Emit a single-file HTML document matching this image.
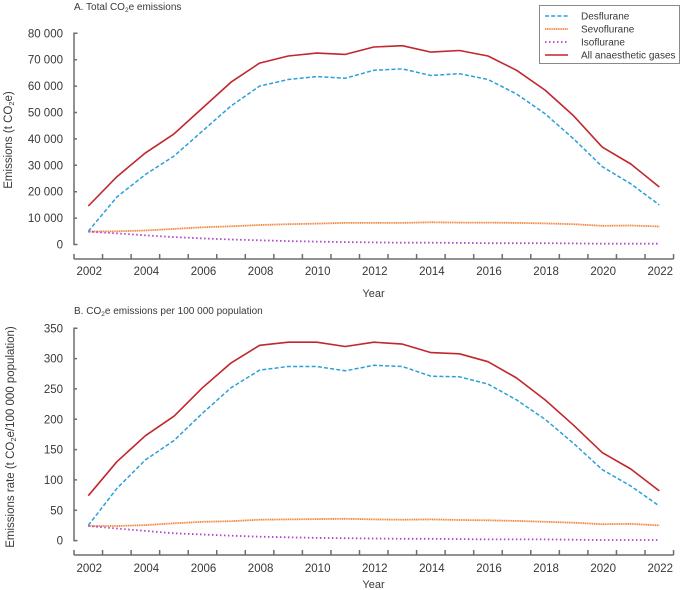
<!DOCTYPE html>
<html><head><meta charset="utf-8"><style>
html,body{margin:0;padding:0;background:#fff;}
svg{display:block;font-family:"Liberation Sans",Arial,sans-serif;fill:#383838;}
</style></head><body>
<svg width="686" height="590" viewBox="0 0 686 590" xmlns="http://www.w3.org/2000/svg">
<!-- Titles -->
<text x="74" y="10" font-size="10">A. Total CO<tspan font-size="6.5" dy="2">2</tspan><tspan dy="-2">e emissions</tspan></text>
<text x="74" y="314" font-size="10">B. CO<tspan font-size="6.5" dy="2">2</tspan><tspan dy="-2">e emissions per 100 000 population</tspan></text>

<!-- Legend -->
<rect x="539.5" y="5.5" width="140" height="58" fill="#fff" stroke="#8a8a8a" stroke-width="1"/>
<line x1="545" y1="16" x2="568" y2="16" stroke="#2a9fd8" stroke-width="1.5" stroke-dasharray="4 2.2"/>
<line x1="545" y1="29" x2="568" y2="29" stroke="#f0843c" stroke-width="1.8" stroke-dasharray="1.2 0.6"/>
<line x1="545" y1="42" x2="568" y2="42" stroke="#b43fd0" stroke-width="1.8" stroke-dasharray="1.5 2.5"/>
<line x1="545" y1="55" x2="568" y2="55" stroke="#c1272d" stroke-width="1.6"/>
<g font-size="10">
<text x="581" y="19.5">Desflurane</text>
<text x="581" y="32.5">Sevoflurane</text>
<text x="581" y="45.5">Isoflurane</text>
<text x="581" y="58.5">All anaesthetic gases</text>
</g>

<!-- Panel A axes -->
<g stroke="#6d6d6d" stroke-width="1.5" fill="none">
<path d="M77.5,33.3 H74 V244.5 H77.5"/>
<path d="M74,218.1h3 M74,191.7h3 M74,165.3h3 M74,138.9h3 M74,112.5h3 M74,86.1h3 M74,59.7h3"/>
<path d="M74,259 H673.6"/>
<path d="M74,254V259 M102.55,254V259 M131.1,254V259 M159.65,254V259 M188.2,254V259 M216.75,254V259 M245.3,254V259 M273.85,254V259 M302.4,254V259 M330.95,254V259 M359.5,254V259 M388.05,254V259 M416.6,254V259 M445.15,254V259 M473.7,254V259 M502.25,254V259 M530.8,254V259 M559.35,254V259 M587.9,254V259 M616.45,254V259 M645,254V259 M673.55,254V259"/>
</g>
<g font-size="11.5" text-anchor="end">
<text x="63" y="248.5">0</text>
<text x="63" y="222.1">10 000</text>
<text x="63" y="195.7">20 000</text>
<text x="63" y="169.3">30 000</text>
<text x="63" y="142.9">40 000</text>
<text x="63" y="116.5">50 000</text>
<text x="63" y="90.1">60 000</text>
<text x="63" y="63.7">70 000</text>
<text x="63" y="37.3">80 000</text>
</g>
<g font-size="11.5" text-anchor="middle">
<text x="89.3" y="275">2002</text>
<text x="146.4" y="275">2004</text>
<text x="203.5" y="275">2006</text>
<text x="260.6" y="275">2008</text>
<text x="317.7" y="275">2010</text>
<text x="374.8" y="275">2012</text>
<text x="431.9" y="275">2014</text>
<text x="489" y="275">2016</text>
<text x="546.1" y="275">2018</text>
<text x="603.2" y="275">2020</text>
<text x="660.3" y="275">2022</text>
<text x="373.5" y="297" font-size="11">Year</text>
</g>
<text transform="translate(12,140) rotate(-90)" font-size="11.5" text-anchor="middle">Emissions (t CO<tspan font-size="7.5" dy="2">2</tspan><tspan dy="-2">e)</tspan></text>

<!-- Panel A series -->
<g fill="none" stroke-linejoin="round">
<polyline stroke="#f0843c" stroke-width="1.8" stroke-dasharray="1.2 0.6" points="88.3,231.6 116.9,231.3 145.4,230.5 174,228.9 202.5,227.3 231.1,226.3 259.6,225 288.2,224.2 316.7,223.6 345.3,222.9 373.8,222.9 402.4,222.9 430.9,222.3 459.5,222.6 488,222.6 516.6,222.9 545.1,223.4 573.7,224.2 602.2,225.8 630.8,225.5 659.3,226.5"/>
<polyline stroke="#b43fd0" stroke-width="1.8" stroke-dasharray="1.5 2.5" points="88.3,231.6 116.9,233.4 145.4,235.3 174,237.1 202.5,238.4 231.1,239.5 259.6,240.3 288.2,241.1 316.7,241.6 345.3,242.1 373.8,242.4 402.4,242.7 430.9,242.7 459.5,242.9 488,243.2 516.6,243.2 545.1,243.2 573.7,243.4 602.2,243.7 630.8,243.7 659.3,243.7"/>
<polyline stroke="#2a9fd8" stroke-width="1.5" stroke-dasharray="4 2.2" points="88.3,231.3 116.9,197 145.4,174.5 174,156.1 202.5,131 231.1,105.9 259.6,86.1 288.2,79.5 316.7,76.6 345.3,78.2 373.8,70.3 402.4,68.9 430.9,75.5 459.5,73.7 488,79.5 516.6,94 545.1,113.8 573.7,138.9 602.2,166.6 630.8,183.8 659.3,204.9"/>
<polyline stroke="#c1272d" stroke-width="1.6" points="88.3,206 116.9,176.7 145.4,152.9 174,133.9 202.5,108 231.1,82.1 259.6,63.1 288.2,56 316.7,53.1 345.3,54.4 373.8,47 402.4,45.7 430.9,52.1 459.5,50.5 488,56 516.6,70.3 545.1,90.1 573.7,115.9 602.2,147.1 630.8,164 659.3,187"/>
</g>

<!-- Panel B axes -->
<g stroke="#6d6d6d" stroke-width="1.5" fill="none">
<path d="M77.5,328.3 H74 V540.6 H77.5"/>
<path d="M74,510.3h3 M74,479.9h3 M74,449.6h3 M74,419.3h3 M74,388.9h3 M74,358.6h3"/>
<path d="M74,555 H673.6"/>
<path d="M74,550V555 M102.55,550V555 M131.1,550V555 M159.65,550V555 M188.2,550V555 M216.75,550V555 M245.3,550V555 M273.85,550V555 M302.4,550V555 M330.95,550V555 M359.5,550V555 M388.05,550V555 M416.6,550V555 M445.15,550V555 M473.7,550V555 M502.25,550V555 M530.8,550V555 M559.35,550V555 M587.9,550V555 M616.45,550V555 M645,550V555 M673.55,550V555"/>
</g>
<g font-size="11.5" text-anchor="end">
<text x="63" y="544.6">0</text>
<text x="63" y="514.3">50</text>
<text x="63" y="483.9">100</text>
<text x="63" y="453.6">150</text>
<text x="63" y="423.3">200</text>
<text x="63" y="392.9">250</text>
<text x="63" y="362.6">300</text>
<text x="63" y="332.3">350</text>
</g>
<g font-size="11.5" text-anchor="middle">
<text x="89.3" y="572">2002</text>
<text x="146.4" y="572">2004</text>
<text x="203.5" y="572">2006</text>
<text x="260.6" y="572">2008</text>
<text x="317.7" y="572">2010</text>
<text x="374.8" y="572">2012</text>
<text x="431.9" y="572">2014</text>
<text x="489" y="572">2016</text>
<text x="546.1" y="572">2018</text>
<text x="603.2" y="572">2020</text>
<text x="660.3" y="572">2022</text>
<text x="373.5" y="588" font-size="11">Year</text>
</g>
<text transform="translate(14,437) rotate(-90)" font-size="11.5" text-anchor="middle">Emissions rate (t CO<tspan font-size="7.5" dy="2">2</tspan><tspan dy="-2">e/100 000 population)</tspan></text>

<!-- Panel B series -->
<g fill="none" stroke-linejoin="round">
<polyline stroke="#f0843c" stroke-width="1.8" stroke-dasharray="1.2 0.6" points="88.3,526 116.9,526 145.4,525.1 174,523.3 202.5,521.8 231.1,521.2 259.6,519.7 288.2,519.4 316.7,519.1 345.3,518.8 373.8,519.4 402.4,519.7 430.9,519.4 459.5,520 488,520.3 516.6,520.9 545.1,521.8 573.7,522.7 602.2,524.2 630.8,523.9 659.3,525.4"/>
<polyline stroke="#b43fd0" stroke-width="1.8" stroke-dasharray="1.5 2.5" points="88.3,526 116.9,528.5 145.4,530.9 174,533.3 202.5,534.5 231.1,535.7 259.6,536.7 288.2,537.3 316.7,537.9 345.3,538.2 373.8,538.5 402.4,538.8 430.9,538.8 459.5,539.1 488,539.4 516.6,539.4 545.1,539.4 573.7,539.7 602.2,540 630.8,540 659.3,540"/>
<polyline stroke="#2a9fd8" stroke-width="1.5" stroke-dasharray="4 2.2" points="88.3,525.4 116.9,488.4 145.4,459.9 174,440.5 202.5,413.2 231.1,387.7 259.6,370.1 288.2,366.5 316.7,366.5 345.3,370.8 373.8,365.3 402.4,366.5 430.9,376.2 459.5,376.8 488,384.1 516.6,399.9 545.1,419.3 573.7,443.5 602.2,469.6 630.8,486 659.3,506"/>
<polyline stroke="#c1272d" stroke-width="1.6" points="88.3,495.7 116.9,461.7 145.4,435.7 174,416.2 202.5,387.7 231.1,362.9 259.6,345.3 288.2,342.2 316.7,342.2 345.3,346.5 373.8,342.2 402.4,344.1 430.9,352.6 459.5,353.8 488,361.7 516.6,378 545.1,399.9 573.7,425.3 602.2,452.6 630.8,469 659.3,490.9"/>
</g>
</svg>
</body></html>
